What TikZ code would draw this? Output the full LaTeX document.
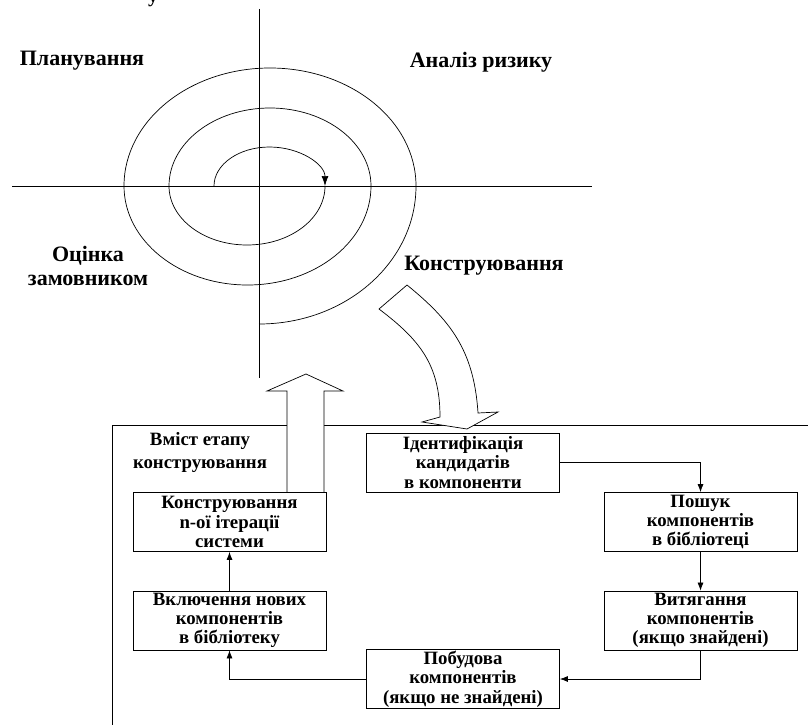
\documentclass[tikz,border=0pt]{standalone}
\usepackage{fontspec}
\setmainfont{Liberation Serif}
\usetikzlibrary{arrows.meta}
\begin{document}
\begin{tikzpicture}[x=1pt,y=1pt,
  lbl/.style={font=\fontsize{22}{24}\selectfont\bfseries, align=center, inner sep=0pt},
  box/.style={draw, line width=0.8pt, minimum width=193pt, minimum height=59pt,
              font=\fontsize{18.8}{19.3}\selectfont\bfseries, align=center, inner sep=0pt},
  flow/.style={-{Latex[length=8pt,width=6pt]}, line width=0.7pt},
  thin line/.style={line width=0.7pt}]
\useasboundingbox (0,0) rectangle (808,-725);

% descender of a letter cut off at the top edge
\node[font=\fontsize{20}{22}\selectfont\bfseries, anchor=base, inner sep=0pt] (cut) at (153,-3) {у};

% quadrant axes
\draw[thin line] (12,-186) -- (592,-186);
\draw[thin line] (259,-9) -- (259,-378);

% spiral
\draw[thin line, -{Latex[length=10pt,width=7pt]}] (214,-186) arc[start angle=180, end angle=0, x radius=55.5, y radius=39];
\draw[thin line] (325,-186)
  arc[start angle=0, end angle=-180, x radius=78, y radius=59]
  arc[start angle=180, end angle=0, x radius=101, y radius=78]
  arc[start angle=0, end angle=-180, x radius=123.5, y radius=99]
  arc[start angle=180, end angle=0, x radius=146, y radius=118]
  arc[start angle=0, end angle=-90, x radius=157, y radius=138];

% quadrant labels
\node[lbl] (plan) at (82,-61) {Планування};
\node[lbl] (risk) at (481,-62) {Аналіз ризику};
\node[lbl] (eval) at (88,-266) {Оцінка\\замовником};
\node[lbl] (constr) at (484,-266) {Конструювання};

% frame of the construction stage
\draw[thin line] (808,-425) -- (112,-425) -- (112,-725);
\node[lbl, font=\fontsize{18.8}{23}\selectfont\bfseries] (stage) at (200,-453) {Вміст етапу\\конструювання};

% curved block arrow into the stage
\draw[thin line, fill=white] (379,-309) .. controls (420,-340) and (440,-365) .. (440,-417)
  -- (422,-422) -- (467,-429) -- (498,-412) -- (478,-413)
  .. controls (474,-350) and (450,-320) .. (407,-285) -- cycle;

% block arrow out of the stage
\draw[thin line, fill=white] (287,-492) -- (287,-391) -- (267,-391) -- (306,-374)
  -- (343,-391) -- (324,-391) -- (324,-492);

% process boxes
\node[box] (iter) at (229.5,-522) {Конструювання\\n-ої ітерації\\системи};
\node[box] (ident) at (463,-462.5) {Ідентифікація\\кандидатів\\в компоненти};
\node[box] (search) at (700.5,-522) {Пошук\\компонентів\\в бібліотеці};
\node[box] (extract) at (700.5,-620.5) {Витягання\\компонентів\\(якщо знайдені)};
\node[box] (include) at (229.5,-620.5) {Включення нових\\компонентів\\в бібліотеку};
\node[box] (build) at (463,-679) {Побудова\\компонентів\\(якщо не знайдені)};

% flow between boxes
\draw[flow] (ident.east) -| (search.north);
\draw[flow] (search.south) -- (extract.north);
\draw[flow] (extract.south) |- (build.east);
\draw[flow] (build.west) -| (include.south);
\draw[flow] (include.north) -- (iter.south);
\end{tikzpicture}
\end{document}
